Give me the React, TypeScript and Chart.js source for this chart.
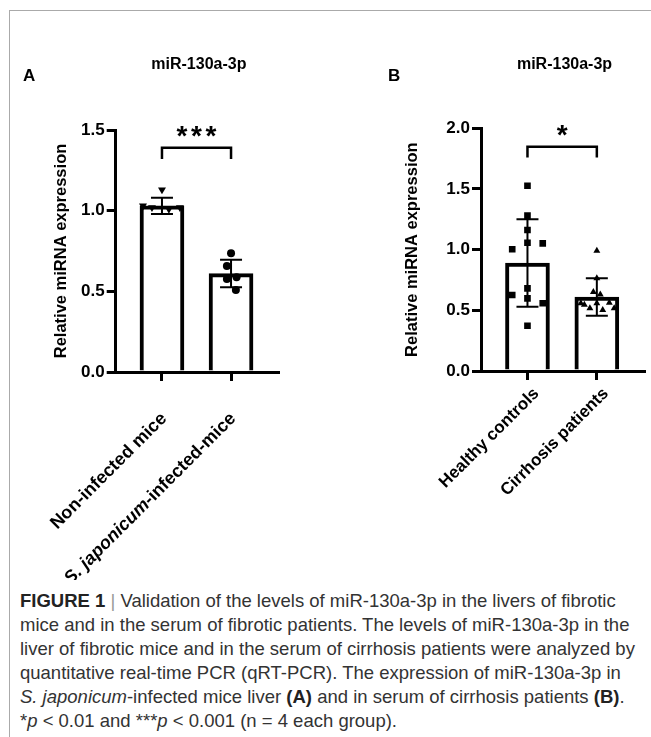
import React, { useEffect, useRef } from "react";
import { Chart, registerables } from "chart.js";

Chart.register(...registerables);

const FONT = "'Liberation Sans', Arial, Helvetica, sans-serif";

// ---------- Panel A data ----------
const catsA = ["Non-infected mice", "S. japonicum-infected-mice"];
const italicA = ["", "S. japonicum"];
const meansA = [1.03, 0.61];
const sdA = [0.05, 0.085];
const ptsA1 = [1.13, 1.03, 1.02, 1.01, 1.02];
const jitA1 = [0, -0.275, -0.145, 0.1, 0.26];
const ptsA2 = [0.736, 0.657, 0.587, 0.576, 0.508];
const jitA2 = [0, -0.06, 0.08, -0.06, 0.07];
const ticksA = [0, 0.5, 1.0, 1.5];
const sigA = "***";
const bracketA = [1.39, 1.32];

// ---------- Panel B data ----------
const catsB = ["Healthy controls", "Cirrhosis patients"];
const italicB = ["", ""];
const meansB = [0.89, 0.61];
const sdB = [0.36, 0.155];
const ptsB1 = [1.527, 1.28, 1.162, 1.057, 1.052, 1.003, 0.681, 0.626, 0.599, 0.558, 0.373];
const jitB1 = [0, 0, 0, 0, 0.22, -0.22, 0, -0.22, 0, 0.22, 0];
const ptsB2 = [0.99, 0.765, 0.65, 0.63, 0.558, 0.545, 0.517, 0.558, 0.503, 0.563, 0.517];
const jitB2 = [0, 0, -0.05, 0.05, -0.23, -0.18, -0.1, 0, 0.085, 0.18, 0.25];
const ticksB = [0, 0.5, 1.0, 1.5, 2.0];
const sigB = "*";
const bracketB = [1.848, 1.76];

const chartTitle = "miR-130a-3p";
const yTitle = "Relative miRNA expression";

type Panel = {
  key: string;
  letter: string;
  cats: string[];
  italic: string[];
  means: number[];
  sd: number[];
  pts: number[][];
  jit: number[][];
  styles: string[];
  rotations: number[];
  radii: number[];
  ticks: number[];
  sig: string;
  bracket: number[];
  width: number;
  height: number;
  pad: { left: number; right: number; top: number; bottom: number };
  yWidth: number;
  labelSize: number;
  labelDx: number;
  labelDy: number;
  letterX: number;
};

const panelA: Panel = {
  key: "A",
  letter: "A",
  cats: catsA,
  italic: italicA,
  means: meansA,
  sd: sdA,
  pts: [ptsA1, ptsA2],
  jit: [jitA1, jitA2],
  styles: ["triangle", "circle"],
  rotations: [180, 0],
  radii: [4.6, 4],
  ticks: ticksA,
  sig: sigA,
  bracket: bracketA,
  width: 330,
  height: 560,
  pad: { left: 51.7, right: 52, top: 110, bottom: 198 },
  yWidth: 64,
  labelSize: 18,
  labelDx: 2,
  labelDy: 44,
  letterX: 23,
};

const panelB: Panel = {
  key: "B",
  letter: "B",
  cats: catsB,
  italic: italicB,
  means: meansB,
  sd: sdB,
  pts: [ptsB1, ptsB2],
  jit: [jitB1, jitB2],
  styles: ["rect", "triangle"],
  rotations: [0, 0],
  radii: [4.7, 4],
  ticks: ticksB,
  sig: sigB,
  bracket: bracketB,
  width: 321,
  height: 560,
  pad: { left: 72.6, right: 7, top: 108.3, bottom: 199 },
  yWidth: 78.4,
  labelSize: 17,
  labelDx: 9,
  labelDy: 20,
  letterX: 58,
};

function makeExtras(p: Panel) {
  return {
    id: "extras" + p.key,
    afterDatasetsDraw(chart: any) {
      const { ctx } = chart;
      const xs = chart.scales.x;
      const ys = chart.scales.y;
      ctx.save();
      ctx.strokeStyle = "#000";
      ctx.fillStyle = "#000";
      ctx.lineWidth = 2;
      p.means.forEach((m, i) => {
        const x = xs.getPixelForValue(i);
        const hi = ys.getPixelForValue(m + p.sd[i]);
        const lo = ys.getPixelForValue(m - p.sd[i]);
        ctx.beginPath();
        ctx.moveTo(x, hi);
        ctx.lineTo(x, lo);
        ctx.moveTo(x - 11, hi);
        ctx.lineTo(x + 11, hi);
        ctx.moveTo(x - 11, lo);
        ctx.lineTo(x + 11, lo);
        ctx.stroke();
      });
      const x0 = xs.getPixelForValue(0);
      const x1 = xs.getPixelForValue(1);
      const yt = ys.getPixelForValue(p.bracket[0]);
      const yb = ys.getPixelForValue(p.bracket[1]);
      ctx.lineWidth = 2.5;
      ctx.beginPath();
      ctx.moveTo(x0, yb);
      ctx.lineTo(x0, yt);
      ctx.lineTo(x1, yt);
      ctx.lineTo(x1, yb);
      ctx.stroke();
      ctx.font = `bold 28px ${FONT}`;
      ctx.textAlign = "center";
      ctx.textBaseline = "alphabetic";
      const mm = ctx.measureText("*");
      const base = yt - 16 + (mm.actualBoundingBoxAscent - mm.actualBoundingBoxDescent) / 2;
      const n = p.sig.length;
      const cx = (x0 + x1) / 2;
      for (let k = 0; k < n; k++) {
        ctx.fillText(p.sig[k], cx + (k - (n - 1) / 2) * 14.5, base);
      }
      ctx.restore();
    },
    afterDraw(chart: any) {
      const { ctx, chartArea } = chart;
      const xs = chart.scales.x;
      ctx.save();
      ctx.fillStyle = "#000";
      ctx.font = `bold 16px ${FONT}`;
      ctx.textAlign = "center";
      ctx.textBaseline = "middle";
      ctx.fillText(chartTitle, (chartArea.left + chartArea.right) / 2 + 2, 44.5);
      ctx.font = `bold 17px ${FONT}`;
      ctx.textAlign = "left";
      ctx.fillText(p.letter, p.letterX, 56);
      p.cats.forEach((lab, i) => {
        const px = xs.getPixelForValue(i);
        const it = p.italic[i] || "";
        const rest = lab.slice(it.length);
        const fb = `bold ${p.labelSize}px ${FONT}`;
        const fi = `italic bold ${p.labelSize}px ${FONT}`;
        ctx.font = fi;
        const w1 = it ? ctx.measureText(it).width : 0;
        ctx.font = fb;
        const w2 = ctx.measureText(rest).width;
        ctx.save();
        ctx.translate(px + p.labelDx, chartArea.bottom + p.labelDy);
        ctx.rotate(-Math.PI / 4);
        ctx.textAlign = "left";
        ctx.textBaseline = "middle";
        let x = -(w1 + w2);
        if (it) {
          ctx.font = fi;
          ctx.fillText(it, x, 0);
          x += w1;
        }
        ctx.font = fb;
        ctx.fillText(rest, x, 0);
        ctx.restore();
      });
      ctx.restore();
    },
  };
}

function buildConfig(p: Panel): any {
  const datasets: any[] = [
    {
      type: "bar",
      data: p.means.map((m, i) => ({ x: i, y: m })),
      barThickness: 44,
      backgroundColor: "#ffffff",
      borderColor: "#000000",
      borderWidth: 4,
      order: 3,
    },
  ];
  p.pts.forEach((arr, g) => {
    datasets.push({
      type: "scatter",
      data: arr.map((v, k) => ({ x: g + p.jit[g][k], y: v })),
      pointStyle: p.styles[g],
      rotation: p.rotations[g],
      pointRadius: p.radii[g],
      pointBorderWidth: 0,
      backgroundColor: "#000",
      borderColor: "#000",
      order: 2,
    });
  });
  const tickVals = p.ticks;
  return {
    type: "bar",
    data: { datasets },
    options: {
      responsive: false,
      animation: false,
      devicePixelRatio: 1,
      events: [],
      layout: { autoPadding: false, padding: p.pad },
      plugins: { legend: { display: false }, tooltip: { enabled: false }, title: { display: false } },
      scales: {
        x: {
          type: "linear",
          position: "bottom",
          min: -0.67,
          max: 1.68,
          offset: false,
          afterBuildTicks: (s: any) => {
            s.ticks = [{ value: 0 }, { value: 1 }];
          },
          afterFit: (s: any) => {
            s.height = 10;
          },
          ticks: { display: false },
          grid: {
            display: true,
            offset: false,
            drawOnChartArea: false,
            drawTicks: true,
            tickLength: 9,
            lineWidth: 3,
            color: "#000",
          },
          border: { display: true, color: "#000", width: 3 },
        },
        y: {
          type: "linear",
          position: "left",
          min: tickVals[0],
          max: tickVals[tickVals.length - 1],
          afterBuildTicks: (s: any) => {
            s.ticks = tickVals.map((v) => ({ value: v }));
          },
          afterFit: (s: any) => {
            s.width = p.yWidth;
          },
          ticks: {
            color: "#000",
            padding: 2,
            font: { family: FONT, size: 17, weight: "bold" },
            callback: (v: any) => Number(v).toFixed(1),
          },
          grid: {
            display: true,
            drawOnChartArea: false,
            drawTicks: true,
            tickLength: 9,
            lineWidth: 3,
            color: "#000",
          },
          border: { display: true, color: "#000", width: 3 },
          title: {
            display: true,
            text: yTitle,
            color: "#000",
            padding: 0,
            font: { family: FONT, size: 16.5, weight: "bold" },
          },
        },
      },
    },
    plugins: [makeExtras(p)],
  };
}

function PanelChart({ p, left, top }: { p: Panel; left: number; top: number }) {
  const ref = useRef<HTMLCanvasElement | null>(null);
  useEffect(() => {
    if (!ref.current) return;
    const chart = new Chart(ref.current, buildConfig(p));
    return () => chart.destroy();
  }, [p]);
  return (
    <canvas
      ref={ref}
      width={p.width}
      height={p.height}
      style={{ position: "absolute", left, top, width: p.width, height: p.height }}
    />
  );
}

const captionStyle: React.CSSProperties = {
  position: "absolute",
  left: 20,
  whiteSpace: "nowrap",
  fontFamily: FONT,
  fontSize: 18.5,
  color: "#333",
  lineHeight: "24px",
};

export default function App() {
  const lineTops = [589, 613, 637, 661, 685, 709];
  return (
    <div
      style={{
        position: "absolute",
        left: 0,
        top: 0,
        width: 651,
        height: 737,
        overflow: "hidden",
        background: "#fff",
      }}
    >
      <div
        style={{
          position: "absolute",
          left: 9,
          top: 10,
          width: 660,
          height: 740,
          borderTop: "1px solid #aaa",
          borderLeft: "1px solid #aaa",
        }}
      />
      <PanelChart p={panelA} left={0} top={20} />
      <PanelChart p={panelB} left={330} top={20} />
      <div style={{ ...captionStyle, top: lineTops[0] }}>
        <b style={{ color: "#222" }}>FIGURE 1</b>{" "}
        <span style={{ color: "#999", fontWeight: 300 }}>|</span> Validation of the levels of miR-130a-3p in the livers of fibrotic
      </div>
      <div style={{ ...captionStyle, top: lineTops[1] }}>
        mice and in the serum of fibrotic patients. The levels of miR-130a-3p in the
      </div>
      <div style={{ ...captionStyle, top: lineTops[2] }}>
        liver of fibrotic mice and in the serum of cirrhosis patients were analyzed by
      </div>
      <div style={{ ...captionStyle, top: lineTops[3] }}>
        quantitative real-time PCR (qRT-PCR). The expression of miR-130a-3p in
      </div>
      <div style={{ ...captionStyle, top: lineTops[4] }}>
        <i>S. japonicum</i>-infected mice liver <b style={{ color: "#222" }}>(A)</b> and in serum of cirrhosis patients{" "}
        <b style={{ color: "#222" }}>(B)</b>.
      </div>
      <div style={{ ...captionStyle, top: lineTops[5] }}>
        *<i>p</i> &lt; 0.01 and ***<i>p</i> &lt; 0.001 (n = 4 each group).
      </div>
    </div>
  );
}
